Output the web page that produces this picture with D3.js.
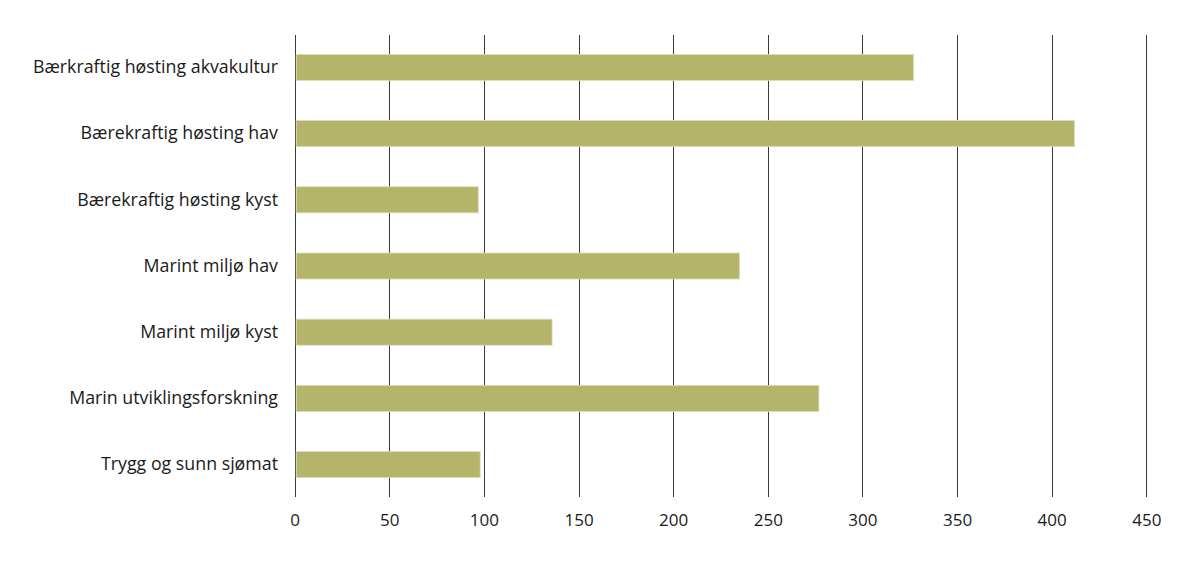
<!DOCTYPE html>
<html><head><meta charset="utf-8">
<script src="https://cdn.jsdelivr.net/npm/d3@7"></script>
<style>body{margin:0;background:#fff;} svg{display:block;}</style>
</head><body>
<svg id="c" width="1198" height="568"></svg>
<script>
const categories = ["Bærkraftig høsting akvakultur","Bærekraftig høsting hav","Bærekraftig høsting kyst","Marint miljø hav","Marint miljø kyst","Marin utviklingsforskning","Trygg og sunn sjømat"];
const values = [327, 412, 97, 235, 136, 277, 98];
const tickValues = [0,50,100,150,200,250,300,350,400,450];

(function(){
const svg = d3.select("#c");
const mLeft = 294.7, mRight = 1146.3, mTop = 35, mBottom = 497;
const font = "'Open Sans', sans-serif";
const x = d3.scaleLinear().domain([0,450]).range([mLeft,mRight]);
const y = d3.scaleBand().domain(categories).range([mTop,mBottom]).paddingInner(0.607).paddingOuter(0.293);

svg.append("g").selectAll("line").data(tickValues).join("line")
  .attr("x1", d=>Math.round(x(d))+0.5).attr("x2", d=>Math.round(x(d))+0.5)
  .attr("y1", mTop).attr("y2", mBottom)
  .attr("stroke", "#3a3a3a").attr("stroke-width", 1);

svg.append("g").selectAll("rect").data(values).join("rect")
  .attr("x", x(0)+1.5).attr("y", (d,i)=>y(categories[i]))
  .attr("width", d=>x(d)-x(0)-1.5).attr("height", y.bandwidth())
  .attr("fill", "#b4b56a").attr("stroke","#dcdcb8").attr("stroke-width",0.8);

const xa = d3.axisBottom(x).tickValues(tickValues).tickSize(0).tickPadding(0);
const gx = svg.append("g").attr("transform", `translate(0,${mBottom})`).call(xa);
gx.select(".domain").remove();
gx.selectAll("text").attr("dy", null).attr("y", 29).attr("font-family", font).attr("font-size", 17).attr("fill", "#1a1a1a");

const ya = d3.axisLeft(y).tickSize(0).tickPadding(0);
const gy = svg.append("g").attr("transform", `translate(278,0)`).call(ya);
gy.select(".domain").remove();
gy.selectAll("text").attr("font-family", font).attr("font-size", 17.8).attr("fill", "#1a1a1a");
})();
</script>
</body></html>
